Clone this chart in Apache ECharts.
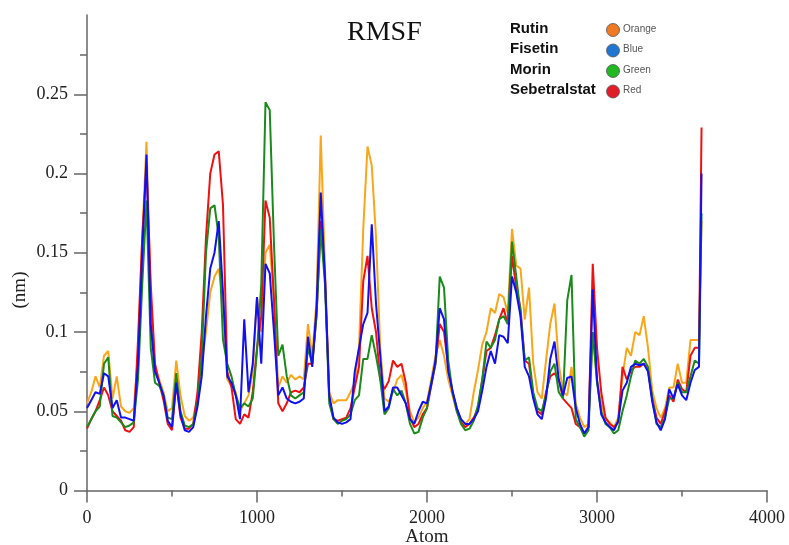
<!DOCTYPE html>
<html>
<head>
<meta charset="utf-8">
<script src="https://cdn.jsdelivr.net/npm/echarts@6/dist/echarts.min.js"></script>
<style>html,body{margin:0;padding:0;background:#fff}#c{width:789px;height:545px}</style>
</head>
<body>
<div id="c"></div>
<script>
const atoms = [0,25,50,75,100,125,150,175,200,225,
250,275,300,325,350,375,400,425,450,475,
500,525,550,575,600,625,650,675,700,725,
750,775,800,825,850,875,900,925,950,975,
1000,1025,1050,1075,1100,1125,1150,1175,1200,1225,
1250,1275,1300,1325,1350,1375,1400,1425,1450,1475,
1500,1525,1550,1575,1600,1625,1650,1675,1700,1725,
1750,1775,1800,1825,1850,1875,1900,1925,1950,1975,
2000,2025,2050,2075,2100,2125,2150,2175,2200,2225,
2250,2275,2300,2325,2350,2375,2400,2425,2450,2475,
2500,2525,2550,2575,2600,2625,2650,2675,2700,2725,
2750,2775,2800,2825,2850,2875,2900,2925,2950,2975,
3000,3025,3050,3075,3100,3125,3150,3175,3200,3225,
3250,3275,3300,3325,3350,3375,3400,3425,3450,3475,
3500,3525,3550,3575,3600,3615];

const rutin = [.055,.062,.072,.065,.085,.088,.058,.072,.053,.050,
.049,.052,.085,.160,.220,.120,.078,.070,.062,.050,
.052,.082,.060,.047,.044,.046,.058,.080,.100,.125,
.135,.140,.120,.070,.066,.062,.050,.055,.060,.075,
.122,.100,.150,.155,.120,.065,.072,.068,.073,.070,
.072,.070,.105,.085,.120,.224,.140,.062,.055,.057,
.057,.057,.062,.068,.090,.165,.217,.205,.160,.090,
.058,.056,.062,.070,.073,.063,.050,.043,.046,.052,
.056,.070,.085,.095,.085,.070,.060,.050,.044,.042,
.045,.062,.076,.092,.100,.115,.112,.124,.122,.112,
.165,.142,.140,.108,.128,.080,.062,.058,.082,.105,
.118,.080,.062,.060,.078,.055,.046,.040,.042,.100,
.070,.055,.045,.043,.040,.046,.072,.090,.085,.100,
.098,.110,.090,.063,.052,.046,.052,.065,.065,.080,
.068,.068,.095,.095,.095,.170];

const fisetin = [.052,.057,.062,.061,.074,.072,.052,.057,.046,.046,
.045,.044,.080,.150,.212,.105,.075,.068,.060,.044,
.040,.068,.048,.038,.037,.040,.053,.072,.110,.140,
.150,.170,.125,.072,.068,.060,.045,.108,.062,.080,
.122,.080,.143,.137,.100,.060,.065,.058,.056,.055,
.056,.058,.097,.078,.115,.188,.134,.060,.046,.043,
.042,.043,.045,.075,.090,.105,.112,.168,.118,.085,
.050,.053,.065,.065,.060,.055,.045,.042,.050,.056,
.055,.067,.082,.115,.108,.075,.063,.052,.045,.042,
.042,.045,.050,.063,.078,.088,.080,.098,.097,.093,
.135,.125,.110,.078,.072,.058,.048,.045,.058,.083,
.094,.070,.060,.071,.072,.052,.042,.036,.040,.127,
.070,.048,.043,.040,.038,.044,.063,.068,.078,.080,
.079,.080,.075,.056,.043,.038,.045,.064,.058,.067,
.060,.057,.068,.076,.078,.200];

const morin = [.040,.045,.050,.053,.080,.084,.047,.046,.043,.040,
.041,.043,.070,.130,.183,.090,.068,.066,.060,.046,
.045,.074,.050,.041,.040,.042,.055,.085,.150,.178,
.180,.160,.095,.080,.072,.060,.052,.055,.053,.058,
.088,.130,.245,.240,.155,.085,.092,.072,.060,.058,
.060,.062,.090,.080,.110,.165,.130,.055,.045,.042,
.044,.045,.048,.057,.060,.083,.083,.098,.085,.070,
.048,.052,.064,.060,.063,.055,.042,.036,.037,.046,
.052,.068,.080,.135,.128,.082,.062,.050,.042,.038,
.039,.044,.054,.070,.094,.090,.095,.108,.110,.105,
.157,.135,.112,.082,.084,.062,.052,.050,.060,.075,
.080,.062,.058,.120,.136,.045,.040,.034,.038,.100,
.068,.050,.042,.040,.036,.038,.050,.060,.072,.082,
.080,.083,.078,.058,.042,.040,.046,.058,.058,.068,
.062,.062,.072,.082,.080,.175];

const sebetralstat = [.039,.045,.050,.057,.065,.060,.050,.047,.044,.038,
.037,.040,.095,.160,.205,.130,.080,.068,.057,.042,
.038,.068,.046,.039,.039,.042,.062,.100,.160,.200,
.212,.214,.180,.075,.065,.045,.042,.048,.046,.062,
.090,.110,.183,.172,.120,.055,.050,.055,.062,.063,
.062,.065,.080,.080,.110,.170,.135,.058,.045,.044,
.045,.046,.052,.065,.078,.132,.148,.115,.100,.070,
.064,.069,.082,.078,.080,.068,.046,.040,.042,.048,
.052,.066,.080,.105,.100,.078,.062,.052,.043,.040,
.042,.046,.052,.070,.088,.090,.098,.108,.115,.105,
.148,.128,.115,.082,.080,.060,.050,.048,.062,.072,
.074,.070,.058,.055,.052,.042,.040,.036,.040,.143,
.090,.062,.046,.042,.040,.043,.078,.070,.076,.078,
.078,.080,.076,.058,.046,.042,.050,.060,.056,.070,
.064,.062,.085,.090,.090,.229];

const yTicks = [0, 0.05, 0.1, 0.15, 0.2, 0.25];
const legendNames = ['Rutin', 'Fisetin', 'Morin', 'Sebetralstat'];
const legendColorNames = ['Orange', 'Blue', 'Green', 'Red'];
const legendDotColors = ['#F07A24', '#2176D2', '#22B822', '#E01E2A'];
const xAxisName = 'Atom';
const yAxisName = '(nm)';

const pairs = arr => atoms.map((a, i) => [a, arr[i]]);
const serif = 'Liberation Serif, Times New Roman, serif';

const chart = echarts.init(document.getElementById('c'));
const graphic = [];
legendNames.forEach((n, i) => {
  const cy = 30 + i * 20.5;
  graphic.push({type: 'text', left: 510, top: cy - 9, style: {text: n, font: 'bold 15px Liberation Sans, Arial, sans-serif', fill: '#111'}});
  graphic.push({type: 'circle', shape: {cx: 613, cy: cy, r: 6.5}, style: {fill: legendDotColors[i], stroke: '#555', lineWidth: 0.8}});
  graphic.push({type: 'text', left: 623, top: cy - 6, style: {text: legendColorNames[i], font: '10px Liberation Sans, Arial, sans-serif', fill: '#555'}});
});
graphic.push({type: 'text', x: 427, y: 537, style: {text: xAxisName, font: '19px ' + serif, fill: '#222', align: 'center', verticalAlign: 'middle'}});
graphic.push({type: 'text', x: 20, y: 290, rotation: Math.PI / 2, style: {text: yAxisName, font: '19px ' + serif, fill: '#222', align: 'center', verticalAlign: 'middle'}});

const lineSeries = (name, data, color) => ({
  name, type: 'line', data: pairs(data), showSymbol: false, symbol: 'none',
  lineStyle: {color, width: 2}, itemStyle: {color}, animation: false
});

chart.setOption({
  animation: false,
  title: {text: 'RMSF', left: 342, top: 14, textStyle: {fontFamily: serif, fontSize: 28, fontWeight: 'normal', color: '#111'}},
  grid: {left: 87, right: 22, top: 15, bottom: 54.5, containLabel: false, outerBoundsMode: 'none'},
  graphic,
  xAxis: {
    type: 'value', min: 0, max: 4000, interval: 1000,
    axisLine: {lineStyle: {color: '#666', width: 1.5}},
    axisTick: {show: true, inside: false, length: 12, lineStyle: {color: '#666', width: 1.5}},
    minorTick: {show: true, splitNumber: 2, length: 6, lineStyle: {color: '#666', width: 1.5}},
    axisLabel: {fontFamily: serif, fontSize: 18, color: '#222', margin: 19, formatter: v => String(v)},
    splitLine: {show: false}
  },
  yAxis: {
    type: 'value', min: 0, max: 0.3, interval: 0.05,
    axisLine: {show: true, lineStyle: {color: '#666', width: 1.5}},
    axisTick: {show: true, inside: false, length: 13, customValues: yTicks, lineStyle: {color: '#666', width: 1.5}},
    minorTick: {show: true, splitNumber: 2, length: 7, lineStyle: {color: '#666', width: 1.5}},
    axisLabel: {fontFamily: serif, fontSize: 18, color: '#222', margin: 19, customValues: yTicks, formatter: v => String(+v.toFixed(3))},
    splitLine: {show: false}
  },
  series: [
    lineSeries('Rutin', rutin, '#FAA61A'),
    lineSeries('Sebetralstat', sebetralstat, '#F01010'),
    lineSeries('Morin', morin, '#1A8A1A'),
    lineSeries('Fisetin', fisetin, '#1010F0')
  ]
});
</script>
</body>
</html>
